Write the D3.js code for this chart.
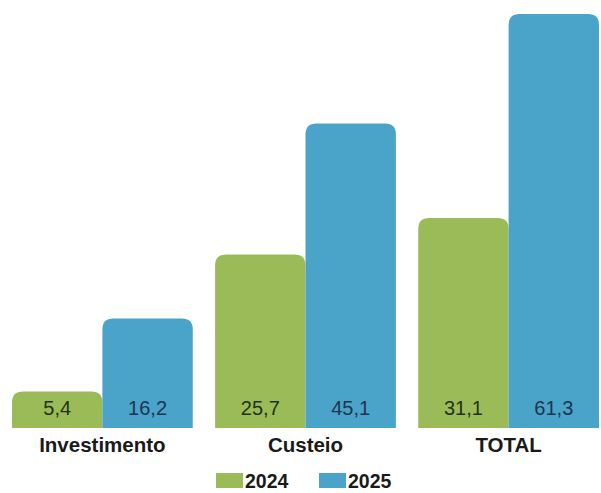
<!DOCTYPE html>
<html><head><meta charset="utf-8">
<script src="https://cdn.jsdelivr.net/npm/d3@7"></script>
<style>body{margin:0;background:#fff}svg{display:block}</style>
</head><body>
<svg id="c" width="601" height="493"></svg>
<script>
const categories = ["Investimento", "Custeio", "TOTAL"];
const seriesNames = ["2024", "2025"];
const values2024 = [5.4, 25.7, 31.1];
const values2025 = [16.2, 45.1, 61.3];
const valueLabels2024 = ["5,4", "25,7", "31,1"];
const valueLabels2025 = ["16,2", "45,1", "61,3"];
const colors = ["#9bbb59", "#4aa3c8"];
const labelColors = ["#1e3318", "#1b3553"];

const svg = d3.select("#c");
const font = "'Liberation Sans', Arial, sans-serif";
const baseY = 428;

const x0 = d3.scaleBand().domain(categories).range([12, 599]).paddingInner(0.11).paddingOuter(0);
const x1 = d3.scaleBand().domain(seriesNames).range([0, x0.bandwidth()]).padding(0);
const y = d3.scaleLinear().domain([0, 61.3]).range([baseY, 14]);

function topRounded(x, yTop, w, h, r) {
  r = Math.min(r, h, w / 2);
  return `M${x},${yTop + h}V${yTop + r}Q${x},${yTop} ${x + r},${yTop}H${x + w - r}Q${x + w},${yTop} ${x + w},${yTop + r}V${yTop + h}Z`;
}

const data = categories.map((c, i) => ({
  cat: c,
  bars: [
    { s: seriesNames[0], v: values2024[i], lab: valueLabels2024[i], k: 0 },
    { s: seriesNames[1], v: values2025[i], lab: valueLabels2025[i], k: 1 }
  ]
}));

const g = svg.selectAll("g.grp").data(data).join("g")
  .attr("class", "grp")
  .attr("transform", d => `translate(${x0(d.cat)},0)`);

g.selectAll("path.bar").data(d => d.bars).join("path")
  .attr("class", "bar")
  .attr("fill", d => colors[d.k])
  .attr("d", d => topRounded(x1(d.s), y(d.v), x1.bandwidth(), baseY - y(d.v), 11));

g.selectAll("text.val").data(d => d.bars).join("text")
  .attr("class", "val")
  .attr("x", d => x1(d.s) + x1.bandwidth() / 2)
  .attr("y", 415)
  .attr("text-anchor", "middle")
  .attr("font-family", font)
  .attr("font-size", 20)
  .attr("fill", d => labelColors[d.k])
  .text(d => d.lab);

svg.selectAll("text.cat").data(categories).join("text")
  .attr("class", "cat")
  .attr("x", d => x0(d) + x0.bandwidth() / 2)
  .attr("y", 452)
  .attr("text-anchor", "middle")
  .attr("font-family", font)
  .attr("font-weight", "bold")
  .attr("font-size", 20.5)
  .attr("fill", "#1a1a1a")
  .text(d => d);

const legendX = [216, 319];
const lg = svg.selectAll("g.leg").data(seriesNames).join("g")
  .attr("class", "leg")
  .attr("transform", (d, i) => `translate(${legendX[i]},473)`);
lg.append("rect").attr("width", 27).attr("height", 15).attr("y", 0).attr("fill", (d, i) => colors[i]);
lg.append("text").attr("x", 29).attr("y", 15)
  .attr("font-family", font).attr("font-weight", "bold").attr("font-size", 19.5)
  .attr("fill", "#1a1a1a").text(d => d);
</script>
</body></html>
